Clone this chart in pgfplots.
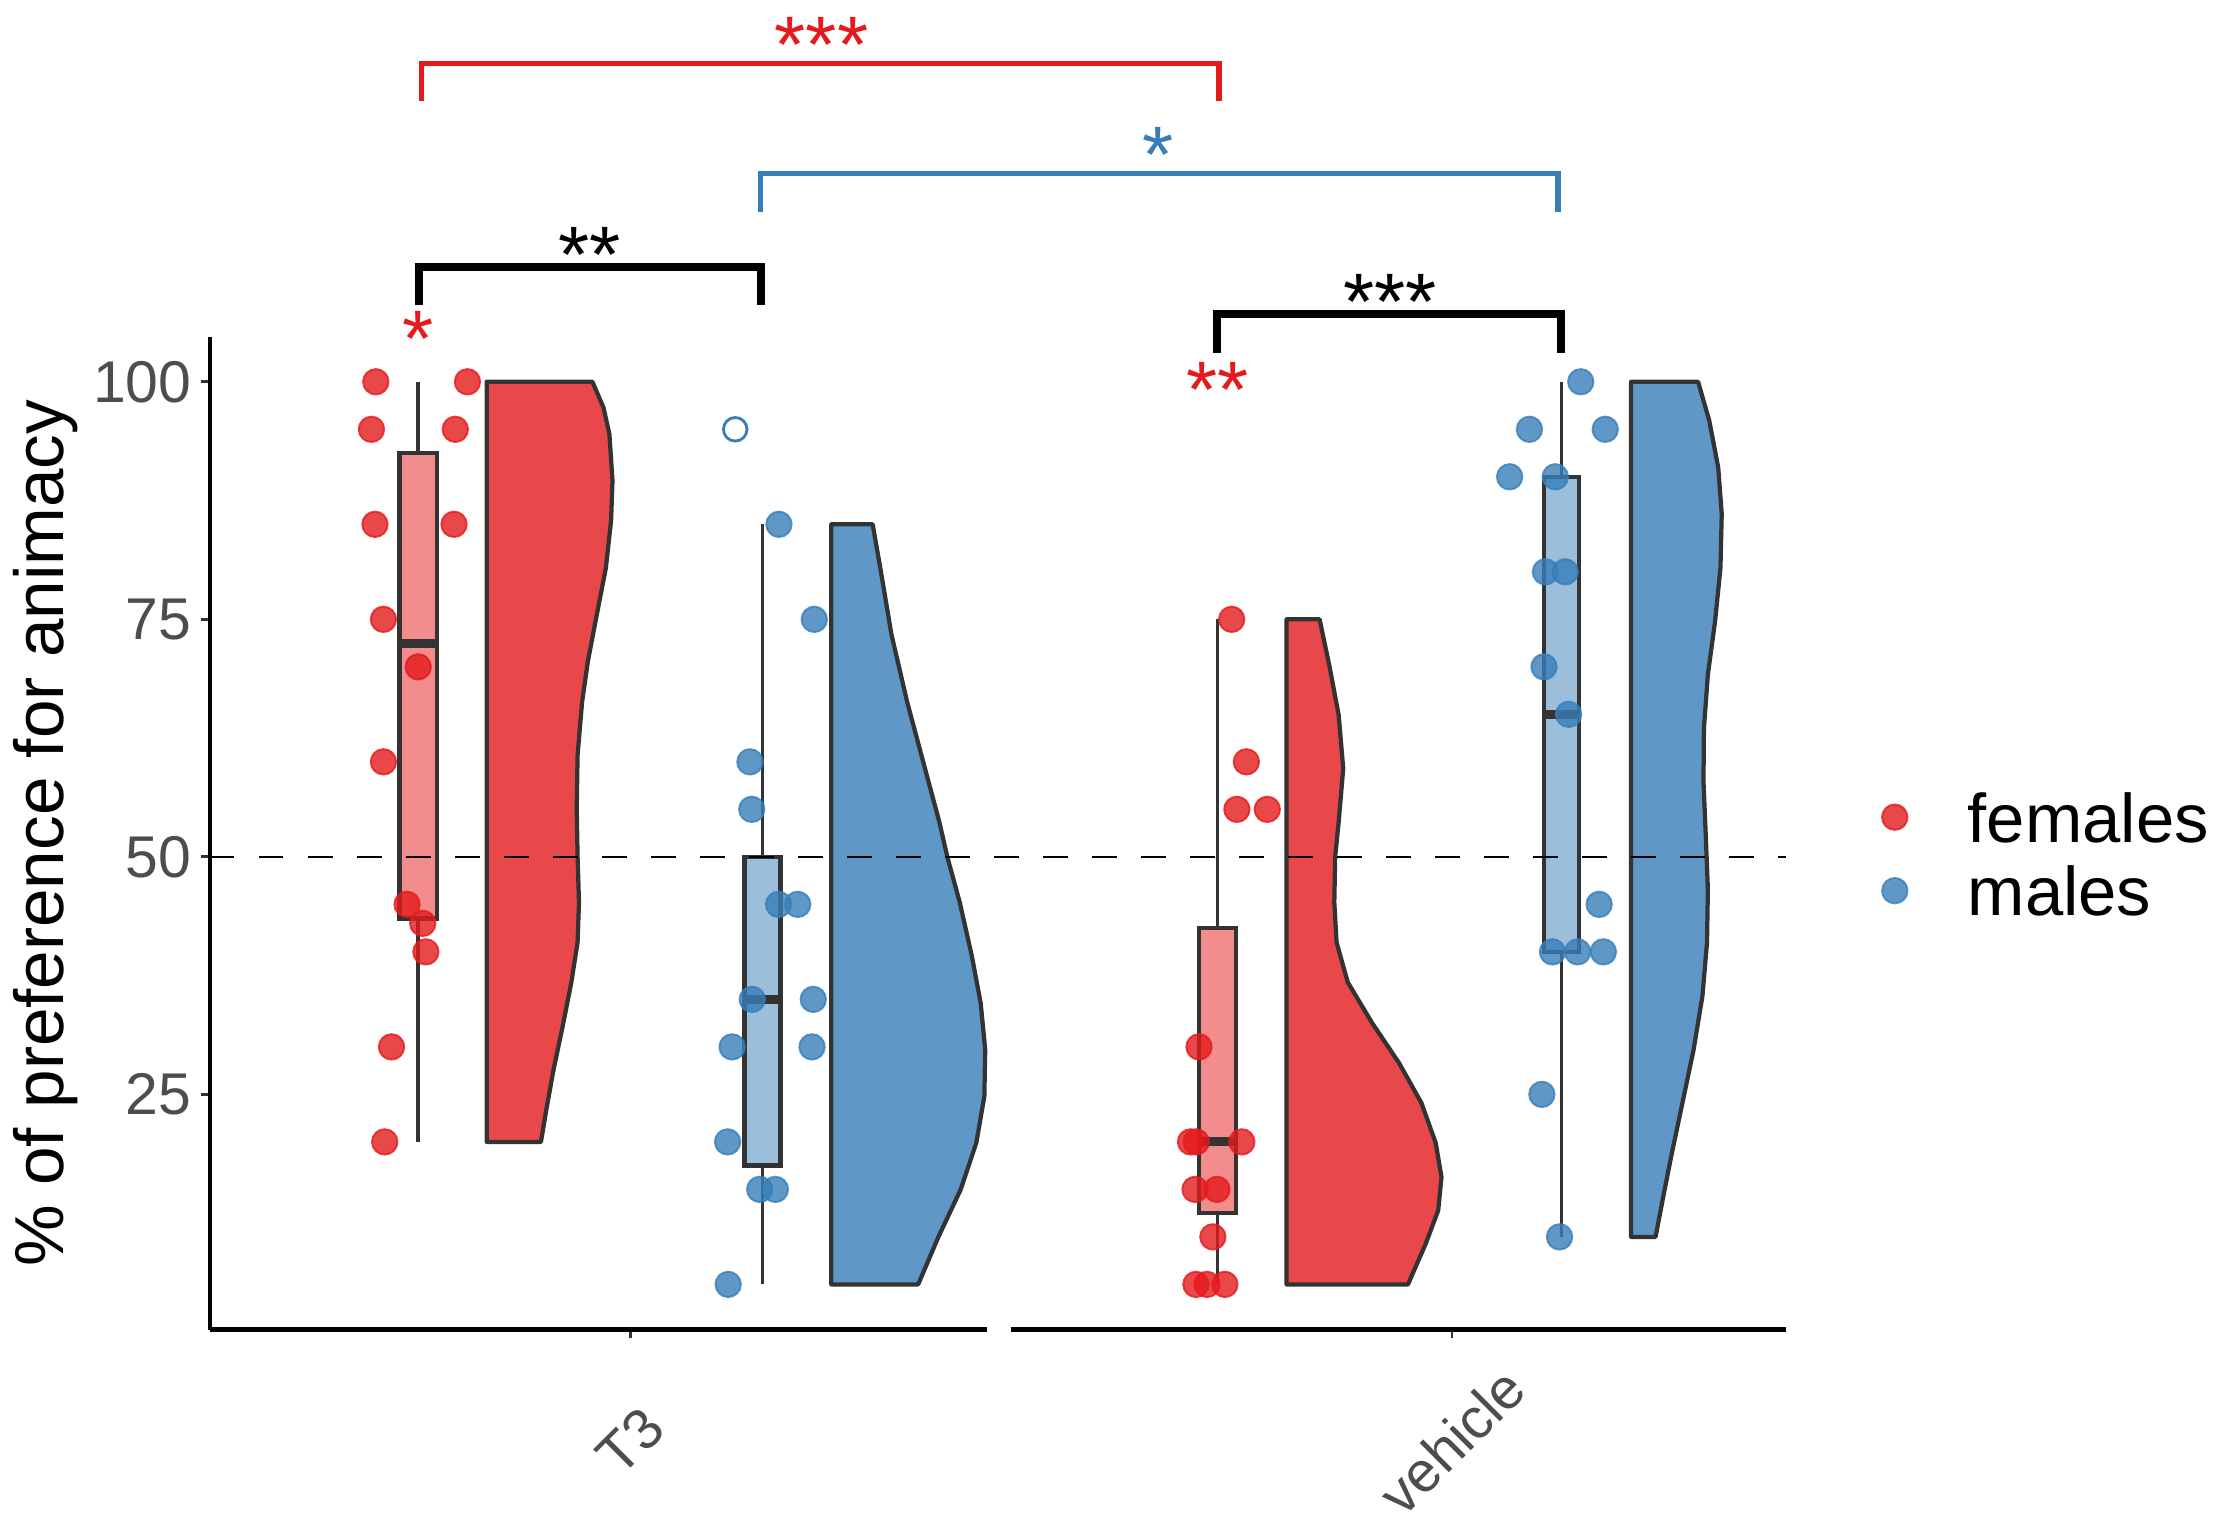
\documentclass[border=0pt]{standalone}
\usepackage{pgfplots}
\pgfplotsset{compat=1.18}
\usepgfplotslibrary{statistics}
\usepackage{fontspec}
\setmainfont{Liberation Sans}
\definecolor{setred}{HTML}{E41A1C}
\definecolor{setblue}{HTML}{377EB8}
\definecolor{vred}{HTML}{E9484A}
\definecolor{vblue}{HTML}{5F98C6}
\definecolor{bred}{HTML}{F28C8D}
\definecolor{bblue}{HTML}{9BBEDB}
\definecolor{lgrey}{HTML}{333333}
\definecolor{tgrey}{HTML}{4D4D4D}
\begin{document}
\begin{tikzpicture}
\path[use as bounding box] (-44.55pt,-40.41pt) rectangle (425.85pt,282.09pt);
\begin{axis}[
  at={(0pt,0pt)}, anchor=south west,
  scale only axis, width=334.35pt, height=210.66pt,
  xmin=1.485, xmax=12.63, ymin=0.25, ymax=104.75,
  clip=false,
  axis lines*=left,
  axis line style={line width=1pt, black},
  x axis line style={draw=none},
  tick align=outside,
  major tick length=1.9pt,
  tick style={line width=0.6pt, color=lgrey},
  xtick={4.459,10.269}, xticklabels={T3,vehicle},
  ytick={25,50,75,100},
  /pgf/number format/assume math mode=true,
  yticklabel style={font=\fontsize{12.5}{14}\selectfont, color=tgrey, xshift=1.5pt},
  xticklabel style={font=\fontsize{12.1}{14}\selectfont, color=tgrey, yshift=-21.8pt, rotate=45, anchor=center},
  ylabel={\% of preference for animacy},
  every axis y label/.style={at={(axis description cs:-0.104,0.5)}, rotate=90, anchor=center,
    font=\fontsize{14.7}{17}\selectfont},
  legend style={at={(axis description cs:1.0605,0.479)}, anchor=west, draw=none, fill=none,
    font=\fontsize{14.6}{17}\selectfont, inner sep=0pt, row sep=5pt, column sep=12.8pt,
    nodes={inner sep=0pt, text height=10.6pt, text depth=0pt}},
  legend cell align=left,
  boxplot/draw direction=y,
]
% half violins
\addplot[forget plot, fill=vred, draw=lgrey, line width=0.9pt, line join=round] coordinates {
 (3.442,20) (3.442,100) (4.190,100) (4.268,97.3) (4.310,94.5) (4.332,89.6) (4.322,85.4)
 (4.285,80.4) (4.221,75.5) (4.158,70.6) (4.117,66.3) (4.085,60.7) (4.079,55.1) (4.085,50)
 (4.095,45.2) (4.085,41) (4.041,36.8) (3.984,32.5) (3.915,27.6) (3.864,23.4) (3.826,20)} -- cycle;
\addplot[forget plot, fill=vblue, draw=lgrey, line width=0.9pt, line join=round] coordinates {
 (5.879,5) (5.879,85) (6.172,85) (6.226,80.4) (6.305,73.4) (6.416,66.3) (6.542,59.3)
 (6.643,53.7) (6.700,50) (6.788,45.2) (6.873,39.6) (6.936,34.6) (6.968,29.7) (6.962,24.8)
 (6.905,19.9) (6.795,15) (6.637,10) (6.494,5)} -- cycle;
\addplot[forget plot, fill=vred, draw=lgrey, line width=0.9pt, line join=round] coordinates {
 (9.099,5) (9.099,75) (9.333,75) (9.405,69.9) (9.468,64.9) (9.500,59.3) (9.468,53.7)
 (9.443,50) (9.437,45.2) (9.453,41) (9.532,36.8) (9.705,32.5) (9.895,28.3) (10.053,24.1)
 (10.154,19.9) (10.195,16.3) (10.172,12.8) (10.084,9.3) (9.958,5)} -- cycle;
\addplot[forget plot, fill=vblue, draw=lgrey, line width=0.9pt, line join=round] coordinates {
 (11.536,10) (11.536,100) (12.010,100) (12.089,95.9) (12.152,91) (12.177,86.1) (12.168,80.4)
 (12.130,74.8) (12.079,69.2) (12.051,63.5) (12.048,57.9) (12.064,52.3) (12.079,46.6)
 (12.073,41) (12.041,35.4) (11.978,29.7) (11.899,24.1) (11.820,18.5) (11.763,14.2) (11.709,10)} -- cycle;
% boxplots
\addplot[forget plot, draw=lgrey, fill=bred, line width=0.95pt,
  boxplot prepared={draw position=2.958, lower whisker=20, lower quartile=43.5, median=72.5,
    upper quartile=92.5, upper whisker=100, box extend=0.263, whisker extend=0},
  boxplot/every whisker/.style={line width=0.8pt},
  boxplot/every median/.style={line width=1.9pt}] coordinates {};
\addplot[forget plot, draw=lgrey, fill=bblue, line width=0.95pt,
  boxplot prepared={draw position=5.393, lower whisker=5, lower quartile=17.5, median=35,
    upper quartile=50, upper whisker=85, box extend=0.256, whisker extend=0},
  boxplot/every whisker/.style={line width=0.8pt},
  boxplot/every median/.style={line width=1.9pt}] coordinates {};
\addplot[forget plot, draw=lgrey, fill=bred, line width=0.95pt,
  boxplot prepared={draw position=8.61, lower whisker=5, lower quartile=12.5, median=20,
    upper quartile=42.5, upper whisker=75, box extend=0.262, whisker extend=0},
  boxplot/every whisker/.style={line width=0.8pt},
  boxplot/every median/.style={line width=1.9pt}] coordinates {};
\addplot[forget plot, draw=lgrey, fill=bblue, line width=0.95pt,
  boxplot prepared={draw position=11.044, lower whisker=10, lower quartile=40, median=65,
    upper quartile=90, upper whisker=100, box extend=0.25, whisker extend=0},
  boxplot/every whisker/.style={line width=0.8pt},
  boxplot/every median/.style={line width=1.9pt}] coordinates {};
% points
\addplot[only marks, mark=*, mark size=2.7pt, color=setred,
  mark options={draw=setred, fill=setred, line width=0.4pt, fill opacity=0.8, draw opacity=0.8}] coordinates {
 (2.658,100) (3.306,100) (2.627,95) (3.220,95) (2.652,85) (3.211,85) (2.712,75) (2.958,70)
 (2.712,60) (2.879,45) (2.990,43) (3.012,40) (2.769,30) (2.721,20)
 (8.711,75) (8.815,60) (8.748,55) (8.963,55) (8.480,30) (8.420,20) (8.460,20) (8.783,20)
 (8.452,15) (8.607,15) (8.578,10) (8.458,5) (8.537,5) (8.663,5)};
\addlegendentry{females}
\addplot[only marks, mark=*, mark size=2.7pt, color=setblue,
  mark options={draw=setblue, fill=setblue, line width=0.4pt, fill opacity=0.8, draw opacity=0.8}] coordinates {
 (5.509,85) (5.759,75) (5.304,60) (5.317,55) (5.506,45) (5.642,45) (5.320,35) (5.752,35)
 (5.178,30) (5.743,30) (5.146,20) (5.373,15) (5.484,15) (5.150,5)
 (11.180,100) (10.817,95) (11.353,95) (10.677,90) (11.000,90) (10.930,80) (11.070,80)
 (10.920,70) (11.094,65) (11.310,45) (10.980,40) (11.158,40) (11.340,40) (10.905,25) (11.030,10)};
\addlegendentry{males}
\addplot[forget plot, only marks, mark=o, mark size=2.5pt, color=setblue,
  mark options={fill=white, line width=0.6pt}] coordinates {(5.200,95)};
% reference line
\addplot[forget plot, black, line width=0.55pt, dash pattern=on 5.2pt off 5.2pt] coordinates {(1.485,50) (12.63,50)};
% broken x axis (facets)
\draw[black, line width=1pt] (axis cs:1.485,0.25) -- (axis cs:6.983,0.25);
\draw[black, line width=1pt] (axis cs:7.147,0.25) -- (axis cs:12.63,0.25);
% significance brackets
\draw[setred, line width=1.15pt] (axis cs:2.98,129.6) -- (axis cs:2.98,133.5) -- (axis cs:8.62,133.5) -- (axis cs:8.62,129.6);
\draw[setblue, line width=1.15pt] (axis cs:5.38,117.9) -- (axis cs:5.38,121.9) -- (axis cs:11.02,121.9) -- (axis cs:11.02,117.9);
\draw[black, line width=1.7pt] (axis cs:2.96,108.1) -- (axis cs:2.96,112.1) -- (axis cs:5.38,112.1) -- (axis cs:5.38,108.1);
\draw[black, line width=1.7pt] (axis cs:8.61,103.0) -- (axis cs:8.61,107.1) -- (axis cs:11.04,107.1) -- (axis cs:11.04,103.0);
\node[setred, anchor=base, font=\fontsize{17}{20}\selectfont, inner sep=0pt] at (axis cs:5.81,132.6) {***};
\node[setblue, anchor=base, font=\fontsize{17}{20}\selectfont, inner sep=0pt] at (axis cs:8.19,121.0) {*};
\node[black, anchor=base, font=\fontsize{17}{20}\selectfont, inner sep=0pt] at (axis cs:4.17,110.5) {**};
\node[black, anchor=base, font=\fontsize{17}{20}\selectfont, inner sep=0pt] at (axis cs:9.83,105.5) {***};
\node[setred, anchor=base, font=\fontsize{17}{20}\selectfont, inner sep=0pt] at (axis cs:2.96,101.6) {*};
\node[setred, anchor=base, font=\fontsize{17}{20}\selectfont, inner sep=0pt] at (axis cs:8.61,96.2) {**};
\end{axis}
\end{tikzpicture}
\end{document}
